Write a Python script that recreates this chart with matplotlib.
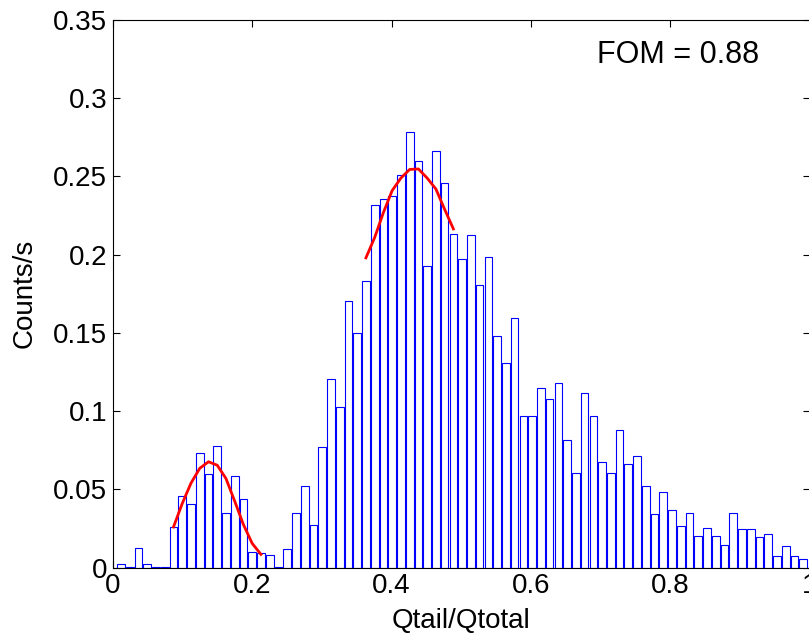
import numpy as np
import matplotlib
matplotlib.use("Agg")
import matplotlib.pyplot as plt

plt.rcParams['font.family'] = ['Liberation Sans', 'DejaVu Sans']

# Histogram (bin centres start / width) and bar heights (Counts/s)
bin_start = 0.0119
bin_width = 0.01255
counts = [
    0.0021, 0.0007, 0.0123, 0.0021, 0.0005, 0.0005, 0.0262, 0.0460, 0.0407, 0.0735,
    0.0596, 0.0778, 0.0347, 0.0588, 0.0436, 0.0098, 0.0091, 0.0083, 0.0007, 0.0117,
    0.0347, 0.0522, 0.0270, 0.0769, 0.1208, 0.1027, 0.1706, 0.1497, 0.1834, 0.2315,
    0.2358, 0.2375, 0.2511, 0.2784, 0.2596, 0.1928, 0.2665, 0.2460, 0.2132, 0.1970,
    0.2123, 0.1808, 0.1987, 0.1482, 0.1310, 0.1593, 0.0967, 0.0967, 0.1146, 0.1078,
    0.1182, 0.0813, 0.0605, 0.1114, 0.0967, 0.0675, 0.0607, 0.0882, 0.0660, 0.0711,
    0.0524, 0.0343, 0.0481, 0.0369, 0.0264, 0.0351, 0.0204, 0.0256, 0.0204, 0.0145,
    0.0351, 0.0247, 0.0247, 0.0196, 0.0215, 0.0075, 0.0136, 0.0077, 0.0058,
]

# Gaussian fit curves, evaluated at bin indices (0-based)
fit1_bins = [6, 7, 8, 9, 10, 11, 12, 13, 14, 15, 16]
fit1_vals = [0.026, 0.041, 0.054, 0.0635, 0.0677, 0.0655, 0.057, 0.0425, 0.0275, 0.0155, 0.0085]
fit2_bins = [28, 29, 30, 31, 32, 33, 34, 35, 36, 37, 38]
fit2_vals = [0.198, 0.211, 0.227, 0.241, 0.249, 0.2545, 0.2548, 0.249, 0.242, 0.229, 0.2165]

xticks = [0, 0.2, 0.4, 0.6, 0.8, 1]
xticklabels = ["0", "0.2", "0.4", "0.6", "0.8", "1"]
yticks = [0, 0.05, 0.1, 0.15, 0.2, 0.25, 0.3, 0.35]
yticklabels = ["0", "0.05", "0.1", "0.15", "0.2", "0.25", "0.3", "0.35"]

W, H = 809, 638
fig = plt.figure(figsize=(W / 100, H / 100), dpi=100)
ax = fig.add_axes([112.7 / W, (H - 567.7) / H, 697 / W, 547.7 / H])

centers = bin_start + bin_width * np.arange(len(counts))
ax.bar(centers, counts, width=bin_width * 0.88, color='white',
       edgecolor='#0000ff', linewidth=0.8, zorder=2)

ax.plot(centers[fit1_bins], fit1_vals, color='#ff0000', linewidth=2.0, zorder=3)
ax.plot(centers[fit2_bins], fit2_vals, color='#ff0000', linewidth=2.0, zorder=3)

ax.set_xlim(0, 1)
ax.set_ylim(0, 0.35)
ax.set_xticks(xticks)
ax.set_xticklabels(xticklabels)
ax.set_yticks(yticks)
ax.set_yticklabels(yticklabels)
ax.tick_params(direction='in', length=5, width=0.8, top=True, right=True,
               labelsize=20, pad=4)
for s in ax.spines.values():
    s.set_linewidth(0.8)

ax.set_xlabel("Qtail/Qtotal", fontsize=20, labelpad=6)
ax.set_ylabel("Counts/s", fontsize=20, labelpad=11)

ax.text(0.811, 0.3276, "FOM = 0.88", fontsize=22, ha='center', va='center')

fig.savefig("out.png", dpi=100)
